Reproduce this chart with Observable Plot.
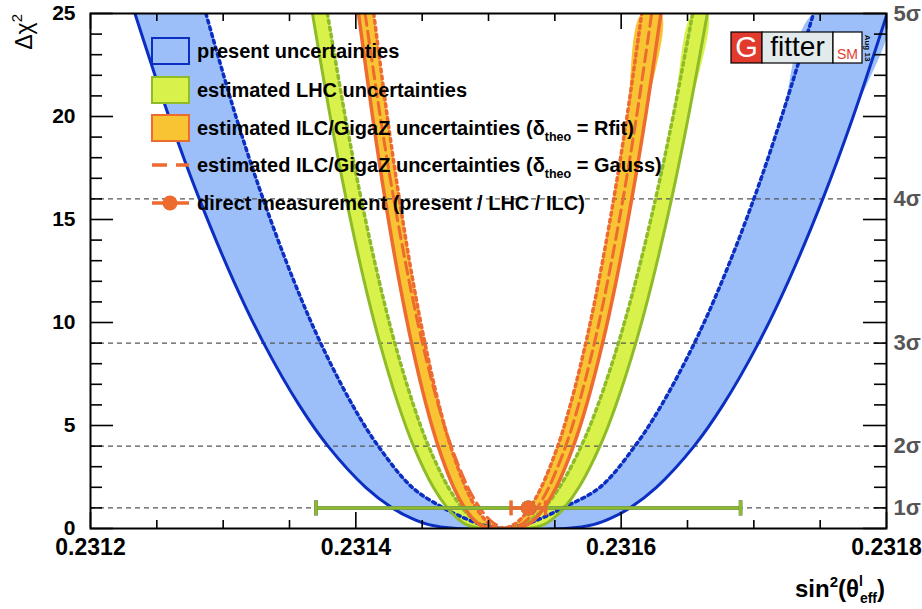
<!DOCTYPE html>
<html><head><meta charset="utf-8">
<script src="https://cdn.jsdelivr.net/npm/d3@7"></script>
<script src="https://cdn.jsdelivr.net/npm/@observablehq/plot@0.6"></script>
<style>body{margin:0;background:#fff;} #chart{position:relative;width:922px;height:609px;}</style>
</head><body><div id="chart"></div>
<script>
const levels = [25, 20, 16, 12, 9, 6, 4, 2, 1, 0.5, 0.2, 0];

// present uncertainties: solid (outer) and dotted (inner)
const presentSolidL  = [0.2312335, 0.2312591, 0.2312820, 0.2313080, 0.2313305, 0.2313572, 0.2313790, 0.2314074, 0.2314275, 0.2314417, 0.2314543, 0.2314760];
const presentSolidR  = [0.2318005, 0.2317749, 0.2317520, 0.2317260, 0.2317035, 0.2316768, 0.2316550, 0.2316266, 0.2316065, 0.2315923, 0.2315797, 0.2315580];
const presentDotL    = [0.2312870, 0.2313096, 0.2313301, 0.2313534, 0.2313735, 0.2313974, 0.2314169, 0.2314424, 0.2314660, 0.2314820, 0.2314940, 0.2315100];
const presentDotR    = [0.2317450, 0.2317210, 0.2317000, 0.2316760, 0.2316552, 0.2316305, 0.2316104, 0.2315840, 0.2315560, 0.2315400, 0.2315280, 0.2315120];

// estimated LHC uncertainties
const lhcSolidL = [0.2313673, 0.2313807, 0.2313927, 0.2314063, 0.2314181, 0.2314321, 0.2314435, 0.2314584, 0.2314689, 0.2314763, 0.2314829, 0.2314943];
const lhcSolidR = [0.2316650, 0.2316507, 0.2316380, 0.2316235, 0.2316110, 0.2315961, 0.2315840, 0.2315682, 0.2315570, 0.2315491, 0.2315421, 0.2315300];
const lhcDotL   = [0.2313786, 0.2313920, 0.2314040, 0.2314176, 0.2314294, 0.2314434, 0.2314548, 0.2314697, 0.2314802, 0.2314876, 0.2314942, 0.2315056];
const lhcDotR   = [0.2316539, 0.2316391, 0.2316259, 0.2316109, 0.2315979, 0.2315825, 0.2315699, 0.2315535, 0.2315419, 0.2315337, 0.2315264, 0.2315139];

// estimated ILC/GigaZ uncertainties (Rfit band) and Gauss curve
const ilcSolidL = [0.2314020, 0.2314126, 0.2314220, 0.2314327, 0.2314420, 0.2314530, 0.2314620, 0.2314737, 0.2314820, 0.2314879, 0.2314931, 0.2315020];
const ilcSolidR = [0.2316300, 0.2316184, 0.2316080, 0.2315962, 0.2315860, 0.2315739, 0.2315640, 0.2315511, 0.2315420, 0.2315356, 0.2315298, 0.2315200];
const ilcDotL   = [0.2314135, 0.2314237, 0.2314328, 0.2314431, 0.2314521, 0.2314627, 0.2314714, 0.2314827, 0.2314907, 0.2314964, 0.2315014, 0.2315100];
const ilcDotR   = [0.2316155, 0.2316044, 0.2315944, 0.2315831, 0.2315733, 0.2315617, 0.2315522, 0.2315398, 0.2315311, 0.2315249, 0.2315194, 0.2315100];
const ilcGaussL = [0.2314070, 0.2314184, 0.2314286, 0.2314402, 0.2314502, 0.2314621, 0.2314718, 0.2314845, 0.2314934, 0.2314997, 0.2315053, 0.2315150];
const ilcGaussR = [0.2316230, 0.2316116, 0.2316014, 0.2315898, 0.2315798, 0.2315679, 0.2315582, 0.2315455, 0.2315366, 0.2315303, 0.2315247, 0.2315150];

// direct measurements (present / LHC / ILC) at Δχ² = 1
const measNames  = ["present", "LHC", "ILC"];
const measCenter = [0.23153, 0.23153, 0.23153];
const measError  = [0.00016, 0.00016, 0.000013];
const measLevel  = 1;

// axes
const xTicks      = [0.2312, 0.2314, 0.2316, 0.2318];
const xMinorTicks = [0.23125, 0.2313, 0.23135, 0.23145, 0.2315, 0.23155, 0.23165, 0.2317, 0.23175];
const yTicks      = [0, 5, 10, 15, 20, 25];
const yMinorTicks = [1,2,3,4,6,7,8,9,11,12,13,14,16,17,18,19,21,22,23,24];
const sigmaLevels = [1, 4, 9, 16, 25];
const sigmaLabels = ["1σ", "2σ", "3σ", "4σ", "5σ"];

// styles
const C = {
  blueFill: "#9dbff9", blueLine: "#0b2fc2",
  greenFill: "#d9f24b", greenLine: "#8fbb28",
  orangeFill: "#f8c433", orangeLine: "#ee6b2f",
  grid: "#555"
};
const measColor = {present: C.blueLine, LHC: C.greenLine, ILC: C.orangeLine};

function branch(L, R) {
  const pts = levels.map((y, i) => ({x: L[i], y}));
  const rp = levels.map((y, i) => ({x: R[i], y})).reverse();
  if (Math.abs(rp[0].x - pts[pts.length - 1].x) < 1e-10) rp.shift();
  return pts.concat(rp);
}
function band(oL, oR, iL, iR) {
  return branch(oL, oR).concat(branch(iL, iR).reverse());
}
const meas = measNames.map((n, i) => ({name: n, c: measCenter[i], e: measError[i], y: measLevel}));
const caps = meas.flatMap(d => [d.c - d.e, d.c + d.e].map(x => ({name: d.name, x, y: d.y})));
const capSymbol = {draw(ctx) { ctx.moveTo(0, -7.5); ctx.lineTo(0, 7.5); }};

const W = 922, H = 609, mL = 90, mR = 36, mT = 13, mB = 81;
const pW = W - mL - mR, pH = H - mT - mB;
const lineOpt = {x: "x", y: "y", curve: "catmull-rom", clip: true, strokeWidth: 3};

const plot = Plot.plot({
  width: W, height: H, marginLeft: mL, marginRight: mR, marginTop: mT, marginBottom: mB,
  x: {domain: [0.2312, 0.2318]},
  y: {domain: [0, 25]},
  style: {fontFamily: "'Liberation Sans', Arial, sans-serif", background: "white", overflow: "visible"},
  marks: [
    Plot.line(band(presentSolidL, presentSolidR, presentDotL, presentDotR), {x: "x", y: "y", fill: C.blueFill, stroke: "none", curve: "catmull-rom", clip: true}),
    Plot.line(band(lhcSolidL, lhcSolidR, lhcDotL, lhcDotR), {x: "x", y: "y", fill: C.greenFill, stroke: "none", curve: "catmull-rom", clip: true}),
    Plot.line(band(ilcSolidL, ilcSolidR, ilcDotL, ilcDotR), {x: "x", y: "y", fill: C.orangeFill, stroke: "none", curve: "catmull-rom", clip: true}),
    Plot.ruleY(sigmaLevels.slice(0, 4), {stroke: C.grid, strokeWidth: 1.4, strokeDasharray: "5,4"}),
    Plot.line(branch(presentSolidL, presentSolidR), {...lineOpt, stroke: C.blueLine}),
    Plot.line(branch(presentDotL, presentDotR), {...lineOpt, stroke: C.blueLine, strokeWidth: 3.5, strokeDasharray: "3,4"}),
    Plot.line(branch(lhcSolidL, lhcSolidR), {...lineOpt, stroke: C.greenLine}),
    Plot.line(branch(lhcDotL, lhcDotR), {...lineOpt, stroke: C.greenLine, strokeWidth: 3.5, strokeDasharray: "3,4"}),
    Plot.line(branch(ilcSolidL, ilcSolidR), {...lineOpt, stroke: C.orangeLine, strokeWidth: 3.5}),
    Plot.line(branch(ilcDotL, ilcDotR), {...lineOpt, stroke: C.orangeLine, strokeWidth: 3.5, strokeDasharray: "3,4"}),
    Plot.line(branch(ilcGaussL, ilcGaussR), {...lineOpt, stroke: C.orangeLine, strokeDasharray: "12,6"}),
    Plot.ruleY(meas, {y: "y", x1: d => d.c - d.e, x2: d => d.c + d.e, stroke: d => measColor[d.name], strokeWidth: 3.5}),
    Plot.dot(caps, {x: "x", y: "y", symbol: capSymbol, stroke: d => measColor[d.name], strokeWidth: 3.5, fill: "none"}),
    Plot.dot(meas, {x: "c", y: "y", r: 7.5, fill: d => measColor[d.name], stroke: "none"}),
    // ticks (inward, mirrored)
    Plot.ruleY(yTicks, {insetRight: pW - 23, stroke: "black", strokeWidth: 1.6}),
    Plot.ruleY(yMinorTicks, {insetRight: pW - 12, stroke: "black", strokeWidth: 1.6}),
    Plot.ruleY(yTicks, {insetLeft: pW - 23, stroke: "black", strokeWidth: 1.6}),
    Plot.ruleY(yMinorTicks, {insetLeft: pW - 12, stroke: "black", strokeWidth: 1.6}),
    Plot.ruleX(xTicks, {insetTop: pH - 16, stroke: "black", strokeWidth: 1.6}),
    Plot.ruleX(xMinorTicks, {insetTop: pH - 8, stroke: "black", strokeWidth: 1.6}),
    Plot.ruleX(xTicks, {insetBottom: pH - 16, stroke: "black", strokeWidth: 1.6}),
    Plot.ruleX(xMinorTicks, {insetBottom: pH - 8, stroke: "black", strokeWidth: 1.6}),
    Plot.axisY({ticks: yTicks, tickSize: 0, tickPadding: 15, fontSize: 21, fontWeight: "bold", label: null}),
    Plot.axisX({ticks: xTicks, tickFormat: d => d.toFixed(4), tickSize: 0, tickPadding: 10, fontSize: 23, fontWeight: "bold", label: null}),
    Plot.axisY({anchor: "right", ticks: sigmaLevels, tickFormat: d => sigmaLabels[sigmaLevels.indexOf(d)], tickSize: 0, tickPadding: 7, fontSize: 22, fontWeight: "bold", fill: "#555", label: null}),
    Plot.frame({stroke: "black", strokeWidth: 2})
  ]
});
document.getElementById("chart").appendChild(plot);

// legend, logo, axis titles
const svg = d3.select(plot);
const font = "'Liberation Sans', Arial, sans-serif";
const lg = svg.append("g").attr("font-family", font).attr("font-weight", "bold").attr("font-size", 20)
  .attr("fill", "black").attr("text-anchor", "start");
const boxes = [
  {y: 38, fill: C.blueFill, stroke: C.blueLine},
  {y: 77, fill: C.greenFill, stroke: C.greenLine},
  {y: 115, fill: C.orangeFill, stroke: C.orangeLine}
];
boxes.forEach(b => {
  lg.append("rect").attr("x", 152).attr("y", b.y).attr("width", 37).attr("height", 26)
    .attr("fill", b.fill).attr("stroke", b.stroke).attr("stroke-width", 2);
});
lg.append("text").attr("x", 197).attr("y", 58).text("present uncertainties");
lg.append("text").attr("x", 197).attr("y", 97).text("estimated LHC uncertainties");
function theoText(y, tail) {
  const t = lg.append("text").attr("x", 197).attr("y", y);
  t.append("tspan").text("estimated ILC/GigaZ uncertainties (δ");
  t.append("tspan").attr("font-size", 12.5).attr("dy", 6).text("theo");
  t.append("tspan").attr("dy", -6).text(" = " + tail + ")");
}
theoText(135, "Rfit");
theoText(172, "Gauss");
lg.append("line").attr("x1", 152).attr("x2", 189).attr("y1", 165).attr("y2", 165)
  .attr("stroke", C.orangeLine).attr("stroke-width", 3.5).attr("stroke-dasharray", "15,9");
lg.append("line").attr("x1", 152).attr("x2", 189).attr("y1", 203).attr("y2", 203)
  .attr("stroke", C.orangeLine).attr("stroke-width", 3.5);
lg.append("circle").attr("cx", 170).attr("cy", 203).attr("r", 7.5).attr("fill", C.orangeLine);
lg.append("text").attr("x", 197).attr("y", 210).text("direct measurement (present / LHC / ILC)");

// Gfitter logo
const logo = svg.append("g").attr("font-family", font);
logo.append("rect").attr("x", 731).attr("y", 32).attr("width", 31).attr("height", 31).attr("fill", "#e23b2e").attr("stroke", "black").attr("stroke-width", 1.2);
logo.append("rect").attr("x", 762).attr("y", 32).attr("width", 71).attr("height", 31).attr("fill", "#e2eaeb").attr("stroke", "black").attr("stroke-width", 1.2);
logo.append("rect").attr("x", 833).attr("y", 32).attr("width", 29).attr("height", 31).attr("fill", "white").attr("stroke", "black").attr("stroke-width", 1.2);
logo.append("text").attr("x", 746.5).attr("y", 57).attr("text-anchor", "middle").attr("font-size", 29).attr("fill", "white").text("G");
logo.append("text").attr("x", 797.5).attr("y", 56).attr("text-anchor", "middle").attr("font-size", 28).attr("fill", "black").text("fitter");
logo.append("text").attr("x", 847.5).attr("y", 59).attr("text-anchor", "middle").attr("font-size", 14).attr("fill", "#e23b2e").text("SM");
logo.append("text").attr("transform", "translate(865,48) rotate(90)").attr("text-anchor", "middle").attr("font-size", 8).attr("font-weight", "bold").attr("fill", "black").text("Aug 13");

// axis titles
const yt = svg.append("text").attr("font-family", font).attr("font-size", 23).attr("text-anchor", "end")
  .attr("transform", "translate(32,14) rotate(-90)");
yt.append("tspan").text("Δχ");
yt.append("tspan").attr("font-size", 15).attr("dy", -10).text("2");

const xt = svg.append("text").attr("font-family", font).attr("font-size", 24).attr("font-weight", "bold")
  .attr("text-anchor", "end").attr("x", 885).attr("y", 597);
xt.append("tspan").text("sin");
xt.append("tspan").attr("font-size", 15).attr("dy", -10).text("2");
xt.append("tspan").attr("dy", 10).text("(θ");
xt.append("tspan").attr("font-size", 14).attr("dy", -11).text("l");
xt.append("tspan").attr("font-size", 14).attr("dx", -3).attr("dy", 17).text("eff");
xt.append("tspan").attr("dy", -6).text(")");
</script>
</body></html>
